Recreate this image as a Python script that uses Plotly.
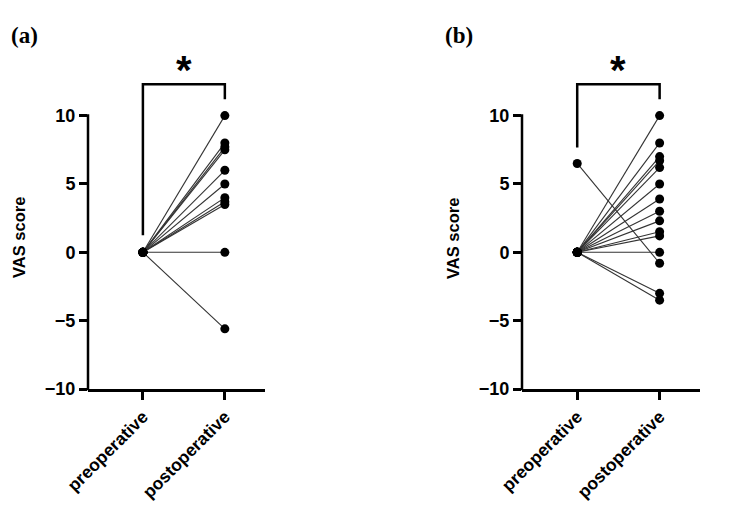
import plotly.graph_objects as go

categories = ["preoperative", "postoperative"]
yticks = [-10, -5, 0, 5, 10]

pre_a = [0, 0, 0, 0, 0, 0, 0, 0, 0, 0, 0]
post_a = [10, 8, 7.7, 7.5, 6, 5, 4, 3.7, 3.5, 0, -5.6]

pre_b = [0, 0, 0, 0, 0, 0, 0, 0, 0, 0, 0, 0, 0, 0, 6.5]
post_b = [10, 8, 7, 6.7, 6.2, 5, 3.9, 3, 2.3, 1.5, 1.2, 0, -3, -3.5, -0.8]

bracket_a = {"left": 1.24, "top": 12.3, "right": 11.2}
bracket_b = {"left": 7.66, "top": 12.3, "right": 11.2}

W, H = 732, 517
OFF = 8  # page body margin offset
YR = [-10, 14.8]
XR = [-0.67, 1.49]
FONT = "Liberation Sans, Arial, sans-serif"


def px(x):
    return (x - OFF) / W


def py(y):
    return (H - (y - OFF)) / H


fig = go.Figure()

panels = [
    ("x", "y", pre_a, post_a, bracket_a, [88, 265], "(a)"),
    ("x2", "y2", pre_b, post_b, bracket_b, [522, 700], "(b)"),
]
ydom = [py(389), py(50)]

for i, (xa, ya, pre, post, br, xpx, lab) in enumerate(panels):
    lx, ly = [], []
    for p, q in zip(pre, post):
        lx += [0, 1, None]
        ly += [p, q, None]
    fig.add_trace(go.Scatter(x=lx, y=ly, mode="lines", xaxis=xa, yaxis=ya,
                             line=dict(color="#333333", width=1.1), hoverinfo="skip",
                             showlegend=False))
    fig.add_trace(go.Scatter(x=[0] * len(pre) + [1] * len(post), y=pre + post,
                             mode="markers", xaxis=xa, yaxis=ya,
                             marker=dict(color="black", size=9), showlegend=False))
    suffix = "" if i == 0 else "2"
    dom = [px(xpx[0]), px(xpx[1])]
    fig.layout["xaxis" + suffix] = dict(
        domain=dom, range=XR, tickmode="array", tickvals=[0, 1], ticktext=categories,
        showline=True, linecolor="black", linewidth=2.5, ticks="outside", ticklen=8,
        tickwidth=2.5, tickcolor="black", tickangle=-45, showgrid=False, zeroline=False,
        anchor=ya, automargin=False,
        tickfont=dict(family=FONT, size=17.5, color="black", weight="bold"))
    fig.layout["yaxis" + suffix] = dict(
        domain=ydom, range=YR, tickmode="array", tickvals=yticks,
        showline=False, ticks="outside", ticklen=8, tickwidth=2.5, tickcolor="black",
        showgrid=False, zeroline=False, anchor=xa, automargin=False,
        tickfont=dict(family=FONT, size=18, color="black", weight="bold"))
    # y axis line from -10 to 10
    yd = lambda v: (v - YR[0]) / (YR[1] - YR[0])
    fig.add_shape(type="line", xref=xa + " domain", yref=ya + " domain",
                  x0=0, x1=0, y0=yd(yticks[0]) - 0.004, y1=yd(yticks[-1]) + 0.004,
                  line=dict(color="black", width=2.5))
    # significance bracket
    fig.add_shape(type="path", xref=xa, yref=ya,
                  path=f"M 0 {br['left']} L 0 {br['top']} L 1 {br['top']} L 1 {br['right']}",
                  line=dict(color="black", width=2.5))
    fig.add_annotation(x=0.5, y=11.6, xref=xa, yref=ya, text="*", showarrow=False,
                       xanchor="center", yanchor="bottom",
                       font=dict(family=FONT, size=40, color="black", weight="bold"))
    # y title
    fig.add_annotation(x=px(xpx[0] - 69), y=py(238), xref="paper", yref="paper",
                       text="VAS score", textangle=-90, showarrow=False,
                       xanchor="center", yanchor="middle",
                       font=dict(family=FONT, size=16.5, color="black", weight="bold"))
    # panel label
    fig.add_annotation(x=px(xpx[0] - 79), y=py(36), xref="paper", yref="paper",
                       text=lab, showarrow=False, xanchor="left", yanchor="middle",
                       font=dict(family="Liberation Serif, serif", size=23, color="black",
                                 weight="bold"))

fig.update_layout(width=W, height=H, margin=dict(l=0, r=0, t=0, b=0, pad=0),
                  plot_bgcolor="white", paper_bgcolor="white")

fig.write_html("out.html")
